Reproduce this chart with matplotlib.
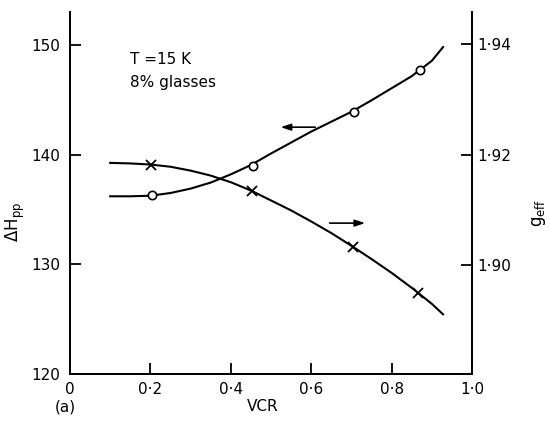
import matplotlib

matplotlib.use("Agg")
import matplotlib.pyplot as plt  # noqa: E402

# -------------------------------
# Data
# -------------------------------
# Delta H_pp curve (left axis, open circles)
dh_curve_x = [0.10, 0.15, 0.20, 0.25, 0.30, 0.35, 0.40, 0.45, 0.50, 0.55, 0.60,
              0.65, 0.70, 0.75, 0.80, 0.85, 0.90, 0.928]
dh_curve_y = [136.2, 136.2, 136.25, 136.5, 136.9, 137.45, 138.2, 139.05, 140.1, 141.1, 142.1,
              143.0, 143.9, 144.95, 146.05, 147.15, 148.55, 149.8]
dh_pts_x = [0.204, 0.455, 0.706, 0.871]
dh_pts_y = [136.3, 139.0, 143.9, 147.7]

# g_eff curve (right axis, crosses)
g_curve_x = [0.10, 0.15, 0.20, 0.25, 0.30, 0.35, 0.40, 0.45, 0.50, 0.55, 0.60,
             0.65, 0.70, 0.75, 0.80, 0.85, 0.90, 0.928]
g_curve_y = [1.9185, 1.9184, 1.9182, 1.9178, 1.9171, 1.9162, 1.9150, 1.9135, 1.9117, 1.9099, 1.9079,
             1.9058, 1.9035, 1.9011, 1.8986, 1.8959, 1.8930, 1.8911]
g_pts_x = [0.202, 0.453, 0.704, 0.866]
g_pts_y = [1.9182, 1.9134, 1.9033, 1.8949]

x_ticks = [0, 0.2, 0.4, 0.6, 0.8, 1.0]
x_ticklabels = ["0", "0·2", "0·4", "0·6", "0·8", "1·0"]
left_ticks = [120, 130, 140, 150]
right_ticks = [1.90, 1.92, 1.94]
right_ticklabels = ["1·90", "1·92", "1·94"]

plt.rcParams["font.family"] = ["DejaVu Sans"]
plt.rcParams["mathtext.default"] = "regular"

W, H = 550, 424
fig = plt.figure(figsize=(W / 100, H / 100), dpi=100)
# axes box in pixels: left 70, right 472, bottom 374, top 12
ax = fig.add_axes([70 / W, (H - 374) / H, (472 - 70) / W, (374 - 12) / H])
ax2 = ax.twinx()

ax.set_xlim(0, 1.0)
ax.set_ylim(120, 153.0)
ax2.set_ylim(1.8803, 1.9458)

lw = 1.5
ax.plot(dh_curve_x, dh_curve_y, color="black", lw=lw, zorder=2)
ax.plot(dh_pts_x, dh_pts_y, linestyle="none", marker="o", ms=6,
        mfc="white", mec="black", mew=1.2, zorder=3)
ax2.plot(g_curve_x, g_curve_y, color="black", lw=lw, zorder=2)
ax2.plot(g_pts_x, g_pts_y, linestyle="none", marker="x", ms=7,
         mec="black", mew=1.3, zorder=3)

# arrows showing which axis belongs to which curve
arrow = dict(arrowstyle="-|>,head_length=0.6,head_width=0.2", color="black", lw=1.2)
ax.annotate("", xy=(0.517, 142.5), xytext=(0.617, 142.5), arrowprops=arrow)
ax2.annotate("", xy=(0.741, 1.9076), xytext=(0.639, 1.9076), arrowprops=arrow)

for a in (ax, ax2):
    a.spines["top"].set_visible(False)
    for s in a.spines.values():
        s.set_linewidth(1.3)

ax.set_xticks(x_ticks)
ax.set_xticklabels(x_ticklabels)
ax.set_yticks(left_ticks)
ax.tick_params(axis="x", direction="in", length=8, width=1.3, pad=6, labelsize=11)
ax.tick_params(axis="y", direction="in", length=8, width=1.3, pad=7, labelsize=11)
ax2.set_yticks(right_ticks)
ax2.set_yticklabels(right_ticklabels)
ax2.tick_params(axis="y", direction="in", length=8, width=1.3, pad=4, labelsize=11)

ax.set_ylabel(r"$\Delta H_{pp}$", fontsize=12)
ax.yaxis.set_label_coords(-0.106, 0.42)
ax2.set_ylabel(r"$g_{eff}$", fontsize=12, rotation=90)
ax2.yaxis.set_label_coords(1.145, 0.445)

ax.text(0.48, -0.09, "VCR", transform=ax.transAxes, ha="center", va="center", fontsize=11)
ax.text(-0.012, -0.09, "(a)", transform=ax.transAxes, ha="center", va="center", fontsize=11)

ax.text(0.149, 0.869, "T =15 K", transform=ax.transAxes, ha="left", va="center", fontsize=11)
ax.text(0.149, 0.805, "8% glasses", transform=ax.transAxes, ha="left", va="center", fontsize=11)

fig.savefig("out.png", dpi=100)
